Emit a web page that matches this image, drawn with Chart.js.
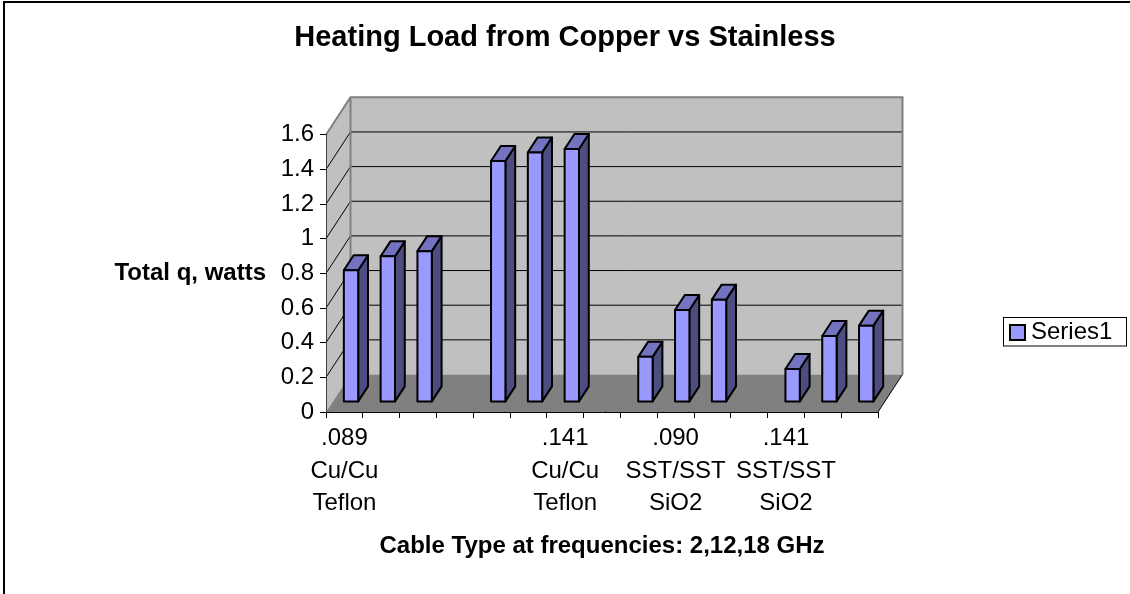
<!DOCTYPE html>
<html>
<head>
<meta charset="utf-8">
<title>Heating Load from Copper vs Stainless</title>
<script src="https://cdn.jsdelivr.net/npm/chart.js@4.4.1/dist/chart.umd.min.js"></script>
<style>
  html, body { margin: 0; padding: 0; background: #fff; }
  canvas { display: block; }
</style>
</head>
<body>
<canvas id="chart-area" width="1130" height="594"></canvas>
<script>
// cable types, each at 2, 12 and 18 GHz, with an empty slot between groups
var categories = [
  ['.089', 'Cu/Cu', 'Teflon'], '', '', '',
  '', '', ['.141', 'Cu/Cu', 'Teflon'], '',
  '', ['.090', 'SST/SST', 'SiO2'], '', '',
  ['.141', 'SST/SST', 'SiO2'], '', ''
];
var totalQ = [0.76, 0.84, 0.87, null, 1.39, 1.44, 1.46, null, 0.26, 0.53, 0.59, null, 0.19, 0.38, 0.44];
var yTicks = [0, 0.2, 0.4, 0.6, 0.8, 1, 1.2, 1.4, 1.6];
var seriesName = 'Series1';
var chartTitle = 'Heating Load from Copper vs Stainless';
var xTitle = 'Cable Type at frequencies: 2,12,18 GHz';
var yTitle = 'Total q, watts';

var FONT = '"Liberation Sans", Arial, sans-serif';
Chart.defaults.font.family = FONT;
Chart.defaults.color = '#000';

// fake 3d look of the old excel chart
var DEPTH = {x: 24.5, y: -37.5};
var BAR_FRONT = 0.27;
var BAR_DEPTH = 0.4;

function poly(ctx, pts, fill) {
  ctx.beginPath();
  ctx.moveTo(pts[0][0], pts[0][1]);
  for (var i = 1; i < pts.length; i++) ctx.lineTo(pts[i][0], pts[i][1]);
  ctx.closePath();
  ctx.fillStyle = fill;
  ctx.fill();
}

var walls3d = {
  id: 'walls3d',
  beforeDraw: function(chart) {
    var ctx = chart.ctx, a = chart.chartArea, ys = chart.scales.y;
    var yMax = yTicks[yTicks.length - 1];
    var L = a.left, R = a.right;
    var T = ys.getPixelForValue(yMax), B = ys.getPixelForValue(0);
    var dx = DEPTH.x, dy = DEPTH.y;
    ctx.save();
    ctx.fillStyle = '#fff';
    ctx.fillRect(0, 0, chart.width, chart.height);
    // outer frame
    ctx.strokeStyle = '#000';
    ctx.lineWidth = 2;
    ctx.beginPath();
    ctx.moveTo(4, chart.height);
    ctx.lineTo(4, 2);
    ctx.lineTo(chart.width, 2);
    ctx.stroke();

    poly(ctx, [[L + dx, B + dy], [R + dx, B + dy], [R + dx, T + dy], [L + dx, T + dy]], '#c0c0c0');
    poly(ctx, [[L, B], [L + dx, B + dy], [L + dx, T + dy], [L, T]], '#c0c0c0');
    poly(ctx, [[L, B], [R, B], [R + dx, B + dy], [L + dx, B + dy]], '#808080');

    // gridlines on side wall and back wall
    ctx.strokeStyle = '#000';
    ctx.lineWidth = 1;
    yTicks.forEach(function(v) {
      if (v <= 0 || v >= yMax) return;
      var y = ys.getPixelForValue(v);
      ctx.beginPath();
      ctx.moveTo(L, y);
      ctx.lineTo(L + dx, y + dy);
      ctx.lineTo(R + dx, y + dy);
      ctx.stroke();
    });

    ctx.strokeStyle = '#808080';
    ctx.lineWidth = 2;
    ctx.beginPath();
    ctx.moveTo(L, T);
    ctx.lineTo(L + dx, T + dy);
    ctx.lineTo(R + dx, T + dy);
    ctx.lineTo(R + dx, B + dy);
    ctx.stroke();
    ctx.beginPath();
    ctx.moveTo(L + dx, T + dy);
    ctx.lineTo(L + dx, B + dy);
    ctx.stroke();

    ctx.strokeStyle = '#000';
    ctx.lineWidth = 1;
    ctx.beginPath();
    ctx.moveTo(R, B);
    ctx.lineTo(R + dx, B + dy);
    ctx.stroke();
    ctx.restore();
  },
  beforeDatasetsDraw: function(chart) {
    var ctx = chart.ctx;
    var meta = chart.getDatasetMeta(0);
    var ds = chart.data.datasets[0];
    var fx = DEPTH.x * BAR_FRONT, fy = DEPTH.y * BAR_FRONT;
    var bx = DEPTH.x * BAR_DEPTH, by = DEPTH.y * BAR_DEPTH;
    ctx.save();
    ctx.lineWidth = 2;
    ctx.lineJoin = 'round';
    ctx.strokeStyle = '#000';
    meta.data.forEach(function(bar, i) {
      if (ds.data[i] == null) return;
      var p = bar.getProps(['x', 'y', 'base', 'width'], true);
      var x0 = p.x - p.width / 2 + fx, x1 = p.x + p.width / 2 + fx;
      var yt = p.y + fy, yb = p.base + fy;
      // side
      poly(ctx, [[x1, yt], [x1 + bx, yt + by], [x1 + bx, yb + by], [x1, yb]], '#4d4d80');
      ctx.stroke();
      // top
      poly(ctx, [[x0, yt], [x0 + bx, yt + by], [x1 + bx, yt + by], [x1, yt]], '#7373c0');
      ctx.stroke();
      // front
      poly(ctx, [[x0, yt], [x1, yt], [x1, yb], [x0, yb]], ds.backgroundColor);
      ctx.stroke();
    });
    ctx.restore();
    return false;
  },
  afterDraw: function(chart) {
    var ctx = chart.ctx, a = chart.chartArea;
    var ds = chart.data.datasets[0];
    ctx.save();
    // y axis title, horizontal like excel
    ctx.font = 'bold 24px ' + FONT;
    ctx.fillStyle = '#000';
    ctx.textAlign = 'right';
    ctx.textBaseline = 'middle';
    ctx.fillText(yTitle, 266, (a.top + a.bottom) / 2);
    // legend box
    ctx.strokeStyle = '#000';
    ctx.lineWidth = 1;
    ctx.strokeRect(1003.5, 317.5, 123, 28.5);
    ctx.fillStyle = ds.backgroundColor;
    ctx.fillRect(1010, 325, 15, 15);
    ctx.lineWidth = 2;
    ctx.strokeRect(1010, 325, 15, 15);
    ctx.fillStyle = '#000';
    ctx.font = '24px ' + FONT;
    ctx.textAlign = 'left';
    ctx.fillText(ds.label, 1031, 332);
    ctx.restore();
  }
};

var config = {
  type: 'bar',
  data: {
    labels: categories,
    datasets: [{
      label: seriesName,
      data: totalQ,
      backgroundColor: '#9999ff',
      borderColor: '#000',
      borderWidth: 2,
      categoryPercentage: 1,
      barPercentage: 0.39
    }]
  },
  options: {
    responsive: false,
    animation: false,
    layout: { padding: 0 },
    plugins: {
      legend: { display: false },
      tooltip: { enabled: false },
      title: {
        display: true,
        text: chartTitle,
        font: { size: 29, weight: 'bold', lineHeight: 1.2 },
        padding: { top: 21, bottom: 79 }
      }
    },
    scales: {
      x: {
        grid: { drawOnChartArea: false, drawTicks: true, tickLength: 6, color: '#000', offset: true },
        border: { display: true, color: '#000', width: 1 },
        ticks: { autoSkip: false, maxRotation: 0, padding: 4, font: { size: 24, lineHeight: 1.36 } },
        title: {
          display: true,
          text: xTitle,
          font: { size: 24, weight: 'bold', lineHeight: 1.2 },
          padding: { top: 0, bottom: 33 }
        },
        afterFit: function(s) { s.height = 182; }
      },
      y: {
        min: yTicks[0],
        max: yTicks[yTicks.length - 1],
        afterBuildTicks: function(s) {
          s.ticks = yTicks.map(function(v) { return { value: v }; });
        },
        grid: { drawOnChartArea: false, drawTicks: true, tickLength: 6, color: '#000' },
        border: { display: true, color: '#404040', width: 1 },
        ticks: {
          padding: 6,
          font: { size: 24 },
          callback: function(v) { return String(Math.round(v * 10) / 10); }
        },
        afterFit: function(s) { s.width = 326; }
      },
      // empty box on the right, room for the legend
      yRight: {
        position: 'right',
        display: true,
        grid: { display: false },
        border: { display: false },
        ticks: { display: false },
        afterFit: function(s) { s.width = 252; }
      }
    }
  },
  plugins: [walls3d]
};

var ctx = document.getElementById('chart-area').getContext('2d');
window.myBar = new Chart(ctx, config);
</script>
</body>
</html>
